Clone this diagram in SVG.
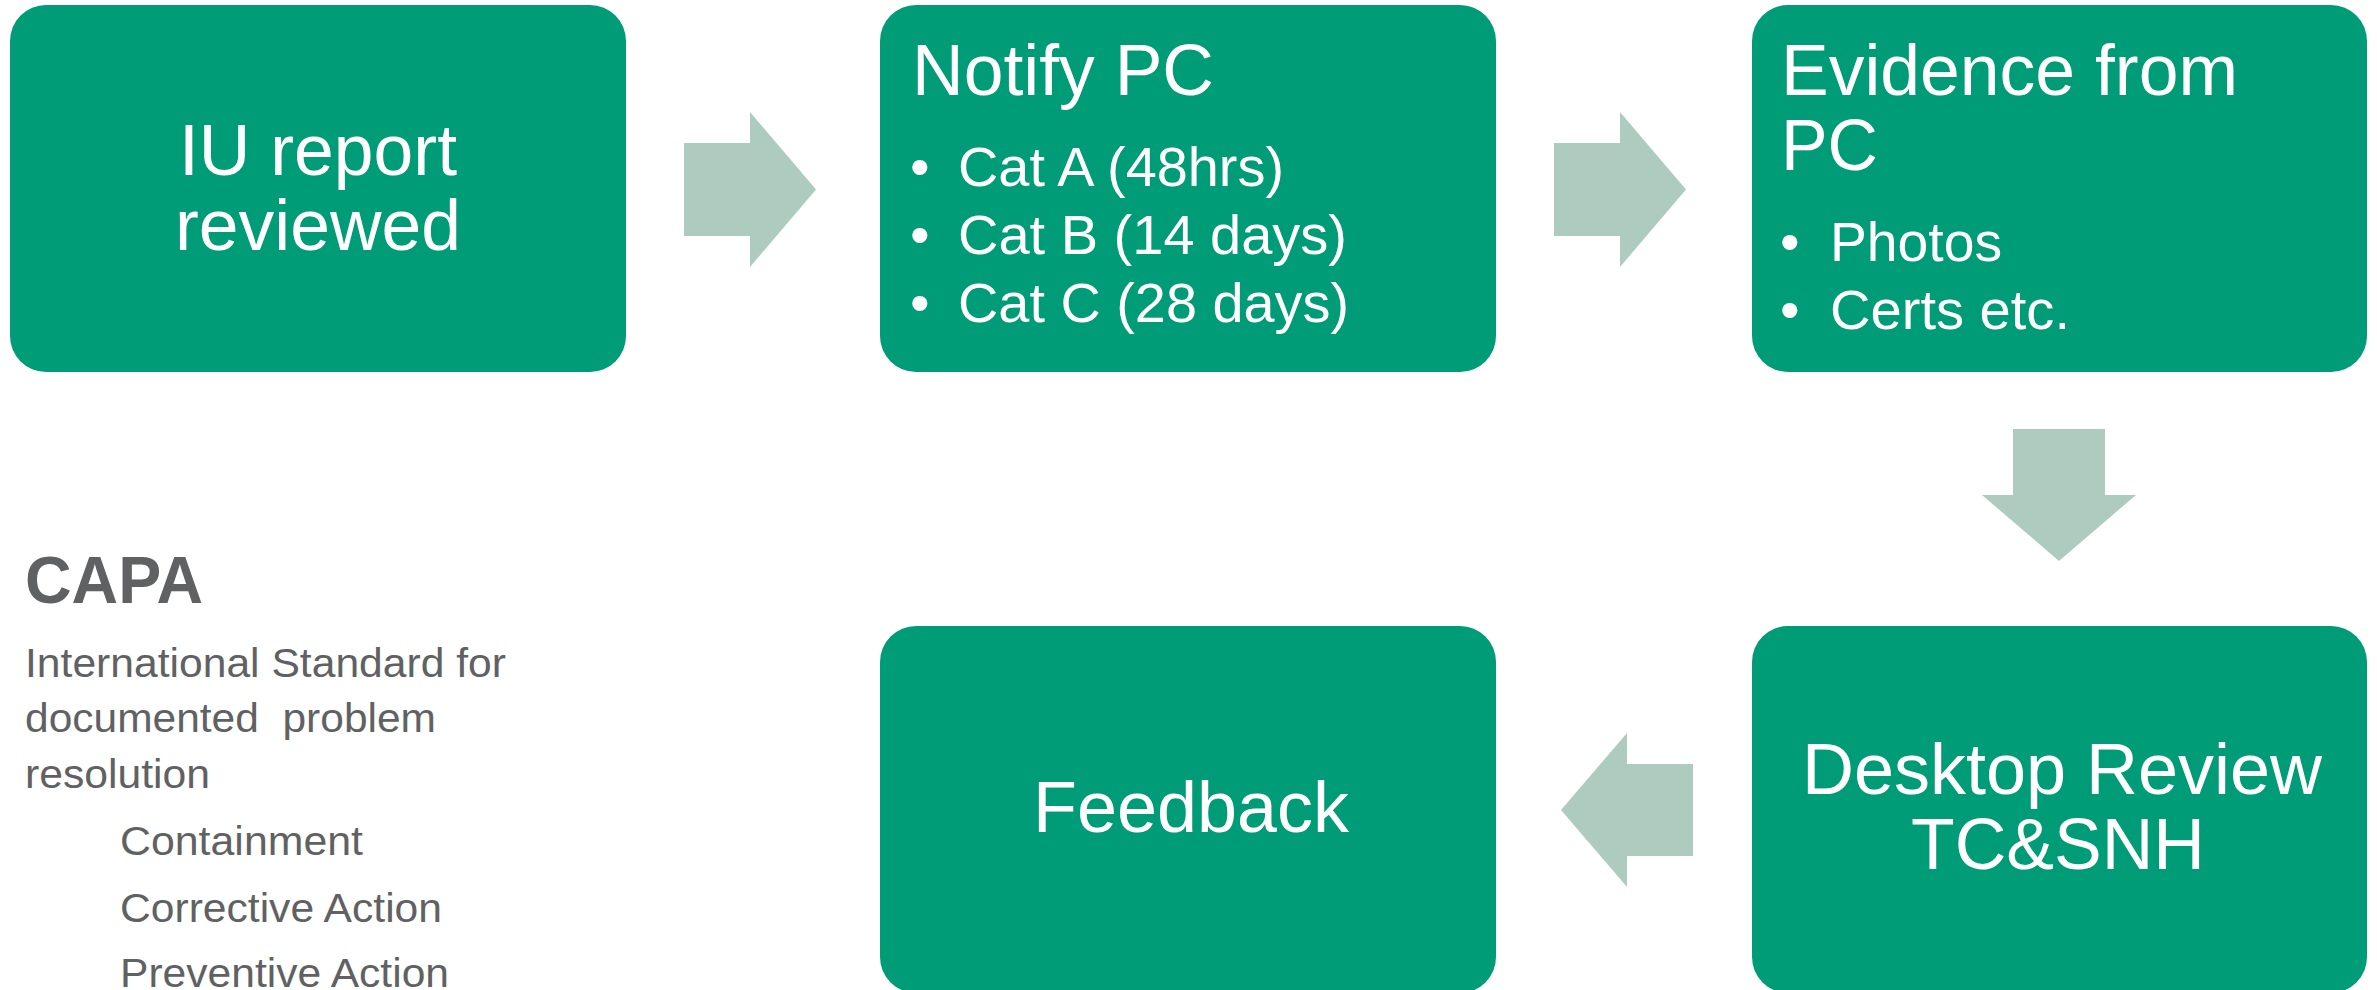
<svg xmlns="http://www.w3.org/2000/svg" width="2377" height="990" viewBox="0 0 2377 990">
<style>
.box{fill:#009B77;}
.arr{fill:#ADCCBF;}
.t{font-family:"Liberation Sans",Arial,sans-serif;fill:#FFFFFF;}
.big{font-size:73px;}
.sm{font-size:56px;}
.g{font-family:"Liberation Sans",Arial,sans-serif;fill:#606162;font-size:41px;}
.h{font-family:"Liberation Sans",Arial,sans-serif;fill:#606162;font-size:66px;font-weight:bold;}
</style>
<rect width="2377" height="990" fill="#FFFFFF"/>
<g id="connectors">
<polygon class="arr" points="684,143 750,143 750,112 816,189.5 750,267 750,236 684,236"/>
<polygon class="arr" points="1554,143 1620,143 1620,112 1686,189.5 1620,267 1620,236 1554,236"/>
<polygon class="arr" points="2013,429 2105,429 2105,495 2136,495 2059,561 1982,495 2013,495"/>
<polygon class="arr" points="1693,764 1627,764 1627,733 1561,810 1627,887 1627,856 1693,856"/>
</g>
<g id="node-iu">
<rect class="box" x="10" y="5" width="616" height="367" rx="36" ry="36"/>
<text class="t big" x="318" y="175" text-anchor="middle" textLength="278" lengthAdjust="spacingAndGlyphs">IU report</text>
<text class="t big" x="318" y="250" text-anchor="middle" textLength="286" lengthAdjust="spacingAndGlyphs">reviewed</text>
</g>
<g id="node-notify">
<rect class="box" x="880" y="5" width="616" height="367" rx="36" ry="36"/>
<text class="t big" x="912" y="95" textLength="302" lengthAdjust="spacingAndGlyphs">Notify PC</text>
<text class="t sm" x="910" y="185.5">•</text>
<text class="t sm" x="958" y="185.5" textLength="326" lengthAdjust="spacingAndGlyphs">Cat A (48hrs)</text>
<text class="t sm" x="910" y="253.5">•</text>
<text class="t sm" x="958" y="253.5" textLength="389" lengthAdjust="spacingAndGlyphs">Cat B (14 days)</text>
<text class="t sm" x="910" y="321.5">•</text>
<text class="t sm" x="958" y="321.5" textLength="391" lengthAdjust="spacingAndGlyphs">Cat C (28 days)</text>
</g>
<g id="node-evidence">
<rect class="box" x="1752" y="5" width="615" height="367" rx="36" ry="36"/>
<text class="t big" x="1781" y="95" textLength="457" lengthAdjust="spacingAndGlyphs">Evidence from</text>
<text class="t big" x="1781" y="170" textLength="97" lengthAdjust="spacingAndGlyphs">PC</text>
<text class="t sm" x="1780" y="261">•</text>
<text class="t sm" x="1830" y="261" textLength="172" lengthAdjust="spacingAndGlyphs">Photos</text>
<text class="t sm" x="1780" y="329">•</text>
<text class="t sm" x="1830" y="329" textLength="240" lengthAdjust="spacingAndGlyphs">Certs etc.</text>
</g>
<g id="node-desktop">
<rect class="box" x="1752" y="626" width="615" height="367" rx="36" ry="36"/>
<text class="t big" x="2062" y="794" text-anchor="middle" textLength="520" lengthAdjust="spacingAndGlyphs">Desktop Review</text>
<text class="t big" x="2058" y="869" text-anchor="middle" textLength="294" lengthAdjust="spacingAndGlyphs">TC&amp;SNH</text>
</g>
<g id="node-feedback">
<rect class="box" x="880" y="626" width="616" height="367" rx="36" ry="36"/>
<text class="t big" x="1191" y="832" text-anchor="middle" textLength="316" lengthAdjust="spacingAndGlyphs">Feedback</text>
</g>
<g id="capa">
<text class="h" x="25" y="603" textLength="178" lengthAdjust="spacingAndGlyphs">CAPA</text>
<text class="g" x="25" y="677" textLength="481" lengthAdjust="spacingAndGlyphs">International Standard for</text>
<text class="g" x="25" y="732" style="white-space:pre" xml:space="preserve" textLength="411" lengthAdjust="spacingAndGlyphs">documented  problem</text>
<text class="g" x="25" y="788" textLength="185" lengthAdjust="spacingAndGlyphs">resolution</text>
<text class="g" x="120" y="855" textLength="243" lengthAdjust="spacingAndGlyphs">Containment</text>
<text class="g" x="120" y="922" textLength="322" lengthAdjust="spacingAndGlyphs">Corrective Action</text>
<text class="g" x="120" y="987" textLength="329" lengthAdjust="spacingAndGlyphs">Preventive Action</text>
</g>
</svg>
